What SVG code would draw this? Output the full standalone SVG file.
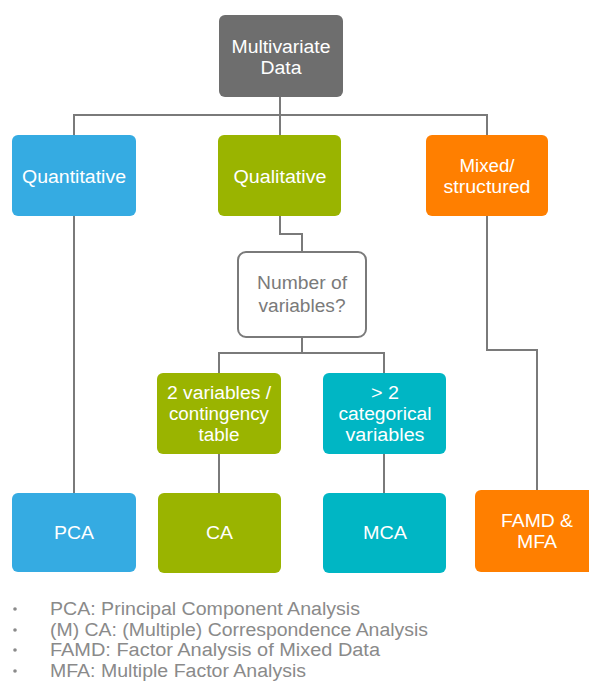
<svg xmlns="http://www.w3.org/2000/svg" width="589" height="689" viewBox="0 0 589 689">
<style>
.t{font-family:"Liberation Sans",Arial,sans-serif;font-size:18px;fill:#ffffff;text-anchor:middle}
.g{fill:#7a7a7a}
.b{font-family:"Liberation Sans",Arial,sans-serif;font-size:18px;fill:#8a8a8a}
.c{fill:none;stroke:#7a7a7a;stroke-width:2}
.gray{fill:#6e6e6e}
.blue{fill:#35abe2}
.green{fill:#9ab400}
.orange{fill:#ff7f00}
.teal{fill:#00b6c4}
</style>
<rect width="589" height="689" fill="#ffffff"/>
<g id="connectors">
<path class="c" d="M280 97V135M74 135V115H487V135"/>
<path class="c" d="M74 216V493"/>
<path class="c" d="M280 216V234H302V252"/>
<path class="c" d="M302 337V353M219 373V353H384V373"/>
<path class="c" d="M219 454V493M384 454V493"/>
<path class="c" d="M487 216V350H537V490"/>
</g>
<g id="multivariate">
<rect class="gray" x="219" y="15" width="124" height="82" rx="6"/>
<text class="t"><tspan x="281" y="53" textLength="99" lengthAdjust="spacingAndGlyphs">Multivariate</tspan><tspan x="281" y="74" textLength="41" lengthAdjust="spacingAndGlyphs">Data</tspan></text>
</g>
<g id="quantitative">
<rect class="blue" x="12" y="135" width="124" height="81" rx="6"/>
<text class="t" x="74" y="183" textLength="104" lengthAdjust="spacingAndGlyphs">Quantitative</text>
</g>
<g id="qualitative">
<rect class="green" x="218" y="135" width="123" height="81" rx="6"/>
<text class="t" x="280" y="183" textLength="93" lengthAdjust="spacingAndGlyphs">Qualitative</text>
</g>
<g id="mixed">
<rect class="orange" x="426" y="135" width="122" height="81" rx="6"/>
<text class="t"><tspan x="487" y="172" textLength="55" lengthAdjust="spacingAndGlyphs">Mixed/</tspan><tspan x="487" y="193" textLength="87" lengthAdjust="spacingAndGlyphs">structured</tspan></text>
</g>
<g id="number">
<rect x="238" y="252" width="128" height="85" rx="8" fill="#ffffff" stroke="#7a7a7a" stroke-width="2"/>
<text class="t g"><tspan x="302" y="289" textLength="90" lengthAdjust="spacingAndGlyphs">Number of</tspan><tspan x="302" y="312" textLength="87" lengthAdjust="spacingAndGlyphs">variables?</tspan></text>
</g>
<g id="two-variables">
<rect class="green" x="157" y="373" width="124" height="81" rx="6"/>
<text class="t"><tspan x="219" y="399" textLength="104" lengthAdjust="spacingAndGlyphs">2 variables /</tspan><tspan x="219" y="420" textLength="100" lengthAdjust="spacingAndGlyphs">contingency</tspan><tspan x="219" y="441" textLength="41" lengthAdjust="spacingAndGlyphs">table</tspan></text>
</g>
<g id="categorical">
<rect class="teal" x="323" y="373" width="123" height="81" rx="6"/>
<text class="t"><tspan x="385" y="399" textLength="28" lengthAdjust="spacingAndGlyphs">&gt; 2</tspan><tspan x="385" y="420" textLength="93" lengthAdjust="spacingAndGlyphs">categorical</tspan><tspan x="385" y="441" textLength="79" lengthAdjust="spacingAndGlyphs">variables</tspan></text>
</g>
<g id="pca">
<rect class="blue" x="12" y="493" width="124" height="79" rx="6"/>
<text class="t" x="74" y="539" textLength="40" lengthAdjust="spacingAndGlyphs">PCA</text>
</g>
<g id="ca">
<rect class="green" x="158" y="493" width="123" height="80" rx="6"/>
<text class="t" x="219.5" y="539" textLength="27" lengthAdjust="spacingAndGlyphs">CA</text>
</g>
<g id="mca">
<rect class="teal" x="323" y="493" width="123" height="80" rx="6"/>
<text class="t" x="385" y="539" textLength="44" lengthAdjust="spacingAndGlyphs">MCA</text>
</g>
<g id="famd">
<rect class="orange" x="475" y="490" width="120" height="82" rx="6"/>
<text class="t"><tspan x="537" y="527" textLength="72" lengthAdjust="spacingAndGlyphs">FAMD &amp;</tspan><tspan x="537" y="548" textLength="40" lengthAdjust="spacingAndGlyphs">MFA</tspan></text>
</g>
<g id="legend">
<circle cx="15" cy="609" r="1.8" fill="#8a8a8a"/>
<circle cx="15" cy="630" r="1.8" fill="#8a8a8a"/>
<circle cx="15" cy="650" r="1.8" fill="#8a8a8a"/>
<circle cx="15" cy="671" r="1.8" fill="#8a8a8a"/>
<text class="b" x="50" y="615" textLength="310" lengthAdjust="spacingAndGlyphs">PCA: Principal Component Analysis</text>
<text class="b" x="50" y="636" textLength="378" lengthAdjust="spacingAndGlyphs">(M) CA: (Multiple) Correspondence Analysis</text>
<text class="b" x="50" y="656" textLength="330" lengthAdjust="spacingAndGlyphs">FAMD: Factor Analysis of Mixed Data</text>
<text class="b" x="50" y="677" textLength="256" lengthAdjust="spacingAndGlyphs">MFA: Multiple Factor Analysis</text>
</g>
</svg>
